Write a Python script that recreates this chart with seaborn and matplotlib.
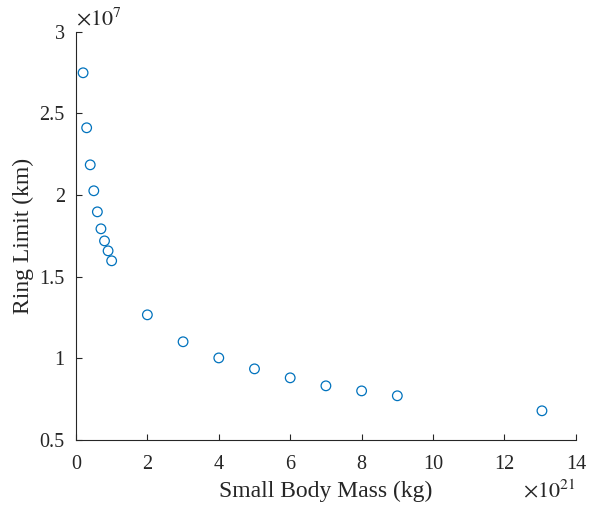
import matplotlib
matplotlib.use("Agg")
import matplotlib.pyplot as plt
import seaborn as sns
import pandas as pd

mass = [0.2, 0.3, 0.4, 0.5, 0.6, 0.7, 0.8, 0.9, 1.0, 2, 3, 4, 5, 6, 7, 8, 9, 13.05]  # x 1e21 kg
ring = [2.749, 2.412, 2.185, 2.026, 1.897, 1.793, 1.719, 1.658, 1.597,
        1.266, 1.101, 1.002, 0.935, 0.880, 0.831, 0.800, 0.770, 0.678]  # x 1e7 km
xticks = [0, 2, 4, 6, 8, 10, 12, 14]
yticks = [0.5, 1, 1.5, 2, 2.5, 3]
ytick_labels = ["0.5", "1", "1.5", "2", "2.5", "3"]

sns.set_style("white")
plt.rcParams['font.family'] = ['Liberation Serif', 'DejaVu Serif']
plt.rcParams['mathtext.fontset'] = 'stix'

df = pd.DataFrame({"mass": mass, "ring": ring})

fig = plt.figure(figsize=(5.98, 5.05), dpi=100)
ax = fig.add_axes([0.127, 0.129, 0.836, 0.808])
sns.scatterplot(data=df, x="mass", y="ring", ax=ax, marker="o", s=48,
                facecolors="none", edgecolor="#0072BD", linewidth=0.9)

ax.set_xlim(0, 14)
ax.set_ylim(0.5, 3)
ax.set_xticks(xticks)
ax.set_xticklabels([str(t) for t in xticks])
ax.set_yticks(yticks)
ax.set_yticklabels(ytick_labels)
for s in ["top", "right"]:
    ax.spines[s].set_visible(False)
for s in ["left", "bottom"]:
    ax.spines[s].set_color("#262626")
    ax.spines[s].set_linewidth(0.8)
ax.tick_params(direction="in", length=4, width=0.8, color="#262626",
               labelsize=14.5, labelcolor="#262626",
               bottom=True, left=True)
ax.tick_params(axis="x", pad=11)
ax.tick_params(axis="y", pad=8)
ax.set_xlabel("Small Body Mass (kg)", fontsize=17, color="#262626", labelpad=5)
ax.set_ylabel("Ring Limit (km)", fontsize=17, color="#262626", labelpad=4)

ax.text(0.0, 1.005, r"$\times10^{7}$", transform=ax.transAxes, fontsize=16,
        color="#262626", ha="left", va="bottom")
ax.text(1.0, -0.097, r"$\times10^{21}$", transform=ax.transAxes, fontsize=16,
        color="#262626", ha="right", va="top")

fig.savefig("out.png", dpi=100)
